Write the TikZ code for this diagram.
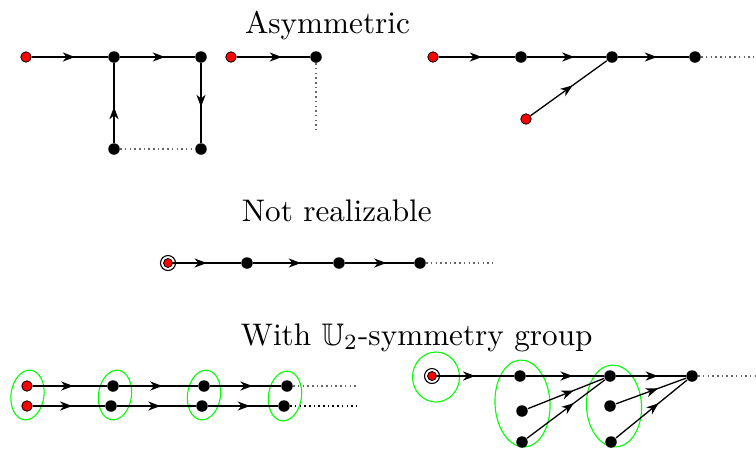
\documentclass[tikz,border=0pt]{standalone}
\usepackage{amssymb}
\usetikzlibrary{decorations.markings,arrows.meta,shapes.geometric}
\def\pxu{0.3205pt}
\tikzset{
  bdot/.style={circle,fill=black,inner sep=0pt,minimum size={11.5*\pxu}},
  rdot/.style={circle,fill=red,draw=black,line width=0.25pt,inner sep=0pt,minimum size={10.5*\pxu}},
  sdot/.style={circle,fill=red,draw=black,line width=0.25pt,inner sep=0pt,minimum size={9*\pxu}},
  ring/.style={line width=0.35pt},
  edge/.style={line width=0.55pt,postaction={decorate},
    decoration={markings,mark=at position #1 with {\arrow{Stealth[length=3.9pt,width=2.9pt,inset=1.2pt]}}}},
  edge/.default=0.57,
  thinedge/.style={line width=0.42pt,postaction={decorate},
    decoration={markings,mark=at position #1 with {\arrow{Stealth[length=3.9pt,width=2.9pt,inset=1.2pt]}}}},
  thinedge/.default=0.6,
  tail/.style={line width=0.45pt,gray!80!black,dash pattern=on 0.45pt off 1.05pt},
  grp/.style={ellipse,draw=green,line width=0.35pt,inner sep=0pt},
  ttl/.style={anchor=base,inner sep=0pt}
}
\begin{document}
\begin{tikzpicture}[x=0.3205pt,y=-0.3205pt]
\useasboundingbox (0,0) rectangle (756,448);
% titles
\node[ttl] (t1) at (327.5,33) {Asymmetric};
\node[ttl] (t2) at (336.7,221.7) {Not realizable};
\node[ttl] (t3) at (416.7,345) {With $\mathbb{U}_2$-symmetry group};

% ---- Asymmetric, first
\node[rdot] (a1) at (26,57) {};
\node[bdot] (a2) at (114,57) {};
\node[bdot] (a3) at (201,57) {};
\node[bdot] (a4) at (114,149) {};
\node[bdot] (a5) at (201,149) {};
\draw[edge] (a1) -- (a2);
\draw[edge=0.6] (a2) -- (a3);
\draw[edge=0.45] (a4) -- (a2);
\draw[edge=0.55] (a3) -- (a5);
\draw[tail] (a4) -- (a5);

% ---- second
\node[rdot] (b1) at (231,57) {};
\node[bdot] (b2) at (316,57) {};
\coordinate (b3) at (316,133);
\draw[edge=0.62] (b1) -- (b2);
\draw[tail] (b2) -- (b3);

% ---- third
\node[rdot] (c1) at (433,57) {};
\node[bdot] (c2) at (521,57) {};
\node[bdot] (c3) at (612,57) {};
\node[bdot] (c4) at (695,57) {};
\node[rdot] (c5) at (526,119) {};
\coordinate (c6) at (756,57);
\draw[edge] (c1) -- (c2);
\draw[edge=0.6] (c2) -- (c3);
\draw[edge=0.55] (c3) -- (c4);
\draw[thinedge=0.55] (c5) -- (c3);
\draw[tail] (c4) -- (c6);

% ---- Not realizable
\node[sdot] (d1) at (168,263) {};
\draw[ring] (d1.center) circle (7.5);
\node[bdot] (d2) at (247,263) {};
\node[bdot] (d3) at (339,263) {};
\node[bdot] (d4) at (420,263) {};
\coordinate (d5) at (493,263);
\draw[edge=0.5] (d1) -- (d2);
\draw[edge=0.6] (d2) -- (d3);
\draw[edge=0.6] (d3) -- (d4);
\draw[tail] (d4) -- (d5);

% ---- U2 symmetric, left
\node[grp,minimum width={33*\pxu},minimum height={50*\pxu},rotate=-8] (g1) at (27.5,395) {};
\node[grp,minimum width={33*\pxu},minimum height={50*\pxu},rotate=-8] (g2) at (115,395) {};
\node[grp,minimum width={33*\pxu},minimum height={50*\pxu},rotate=-8] (g3) at (204,395) {};
\node[grp,minimum width={33*\pxu},minimum height={50*\pxu},rotate=-8] (g4) at (285,396) {};
\node[rdot] (e1) at (27,386) {};
\node[rdot] (e2) at (27,406) {};
\node[bdot] (f1) at (113,386) {};
\node[bdot] (f2) at (111,406) {};
\node[bdot] (h1) at (204,386) {};
\node[bdot] (h2) at (202,406) {};
\node[bdot] (i1) at (287,386) {};
\node[bdot] (i2) at (284,406) {};
\coordinate (j1) at (358,386);
\coordinate (j2) at (357,406);
\draw[edge=0.55] (e1) -- (f1);
\draw[edge=0.55] (e2) -- (f2);
\draw[edge=0.55] (f1) -- (h1);
\draw[edge=0.55] (f2) -- (h2);
\draw[edge=0.6] (h1) -- (i1);
\draw[edge=0.6] (h2) -- (i2);
\draw[tail] (i1) -- (j1);
\draw[tail,black] (i2) -- (j2);

% ---- U2 symmetric, right
\node[grp,minimum width={47*\pxu},minimum height={50*\pxu}] (q1) at (436,377) {};
\node[grp,minimum width={55*\pxu},minimum height={87*\pxu},rotate=3] (q2) at (522.5,403.5) {};
\node[grp,minimum width={55*\pxu},minimum height={82*\pxu},rotate=3] (q3) at (614,406) {};
\node[sdot] (k0) at (432,376) {};
\draw[ring] (k0.center) circle (7.5);
\node[bdot] (k1) at (520,376) {};
\node[bdot] (k2) at (522,411) {};
\node[bdot] (k3) at (522,442) {};
\node[bdot] (m1) at (610,376) {};
\node[bdot] (m2) at (610,406) {};
\node[bdot] (m3) at (611,442) {};
\node[bdot] (n1) at (692,376) {};
\coordinate (n2) at (756,376);
\draw[edge=0.5] (k0) -- (k1);
\draw[edge=0.6] (k1) -- (m1);
\draw[edge=0.6] (m1) -- (n1);
\draw[thinedge=0.6] (k2) -- (m1);
\draw[thinedge=0.6] (k3) -- (m1);
\draw[thinedge=0.6] (m2) -- (n1);
\draw[thinedge=0.6] (m3) -- (n1);
\draw[tail] (n1) -- (n2);
\end{tikzpicture}
\end{document}
